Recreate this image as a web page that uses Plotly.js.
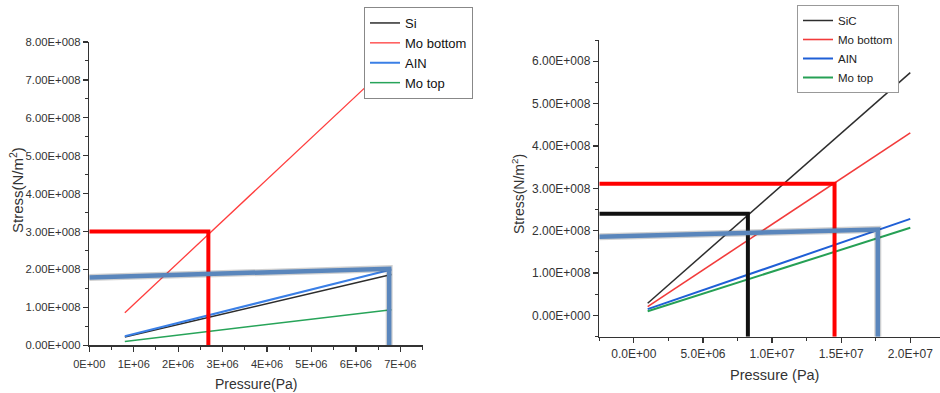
<!DOCTYPE html>
<html>
<head>
<meta charset="utf-8">
<script src="https://cdn.plot.ly/plotly-3.0.1.min.js"></script>
<style>html,body{margin:0;padding:0;background:#fff;}#chart{width:940px;height:393px;}</style>
</head>
<body>
<div id="chart"></div>
<script>
// ---------- Left chart (Si substrate) ----------
var leftPressure = [0.8e6, 6.8e6];
var leftSi = [0.22e8, 1.87e8];
var leftMoBottom = [0.86e8, 7.45e8];
var leftAlN = [0.24e8, 2.0e8];
var leftMoTop = [0.1e8, 0.94e8];
// guide lines (left)
var leftRedGuideX = [0, 2.68e6, 2.68e6];
var leftRedGuideY = [3.0e8, 3.0e8, 0];
var leftBlueGuideX = [0, 6.75e6, 6.75e6];
var leftBlueGuideY = [1.79e8, 2.02e8, 0];
var leftXTickVals = [0, 1e6, 2e6, 3e6, 4e6, 5e6, 6e6, 7e6];
var leftXTickText = ["0E+00", "1E+06", "2E+06", "3E+06", "4E+06", "5E+06", "6E+06", "7E+06"];
var leftYTickVals = [0, 1e8, 2e8, 3e8, 4e8, 5e8, 6e8, 7e8, 8e8];
var leftYTickText = ["0.00E+000", "1.00E+008", "2.00E+008", "3.00E+008", "4.00E+008", "5.00E+008", "6.00E+008", "7.00E+008", "8.00E+008"];
var leftNames = ["Si", "Mo bottom", "AIN", "Mo top"];

// ---------- Right chart (SiC substrate) ----------
var rightPressure = [1e6, 2e7];
var rightSiC = [0.29e8, 5.73e8];
var rightMoBottom = [0.21e8, 4.31e8];
var rightAlN = [0.15e8, 2.28e8];
var rightMoTop = [0.1e8, 2.07e8];
var rightRedGuideX = [-2.5e6, 1.452e7, 1.452e7];
var rightRedGuideY = [3.11e8, 3.11e8, -0.5e8];
var rightBlackGuideX = [-2.5e6, 8.25e6, 8.25e6];
var rightBlackGuideY = [2.40e8, 2.40e8, -0.5e8];
var rightBlueGuideX = [-2.5e6, 1.765e7, 1.765e7];
var rightBlueGuideY = [1.86e8, 2.03e8, -0.5e8];
var rightXTickVals = [0, 5e6, 1e7, 1.5e7, 2e7];
var rightXTickText = ["0.0E+00", "5.0E+06", "1.0E+07", "1.5E+07", "2.0E+07"];
var rightYTickVals = [0, 1e8, 2e8, 3e8, 4e8, 5e8, 6e8];
var rightYTickText = ["0.00E+000", "1.00E+008", "2.00E+008", "3.00E+008", "4.00E+008", "5.00E+008", "6.00E+008"];
var rightNames = ["SiC", "Mo bottom", "AIN", "Mo top"];

var W = 940, H = 393;
function px(x) { return x / W; }
function py(y) { return 1 - y / H; }

var FONT = "Liberation Sans, Arial, sans-serif";

function line(x, y, name, color, width, xa, ya, legend, show) {
  return {type: "scatter", mode: "lines", x: x, y: y, name: name,
    line: {color: color, width: width}, xaxis: xa, yaxis: ya,
    legend: legend, showlegend: show, hoverinfo: "skip"};
}

var traces = [
  line(leftPressure, leftSi, leftNames[0], "#2d2d2d", 1.5, "x", "y", "legend", true),
  line(leftPressure, leftMoBottom, leftNames[1], "#ff3d3d", 1.3, "x", "y", "legend", true),
  line(leftPressure, leftAlN, leftNames[2], "#3a7fe6", 2, "x", "y", "legend", true),
  line(leftPressure, leftMoTop, leftNames[3], "#27a459", 1.5, "x", "y", "legend", true),
  line(leftRedGuideX, leftRedGuideY, "guide", "#ff0000", 4, "x", "y", "legend", false),
  line(leftBlueGuideX, leftBlueGuideY, "guide", "rgba(70,70,70,0.25)", 7, "x", "y", "legend", false),
  line(leftBlueGuideX, leftBlueGuideY, "guide", "#5a86bc", 4.5, "x", "y", "legend", false),

  line(rightPressure, rightSiC, rightNames[0], "#2d2d2d", 1.5, "x2", "y2", "legend2", true),
  line(rightPressure, rightMoBottom, rightNames[1], "#f23b3b", 1.6, "x2", "y2", "legend2", true),
  line(rightPressure, rightAlN, rightNames[2], "#1f5fd6", 2, "x2", "y2", "legend2", true),
  line(rightPressure, rightMoTop, rightNames[3], "#26a055", 2, "x2", "y2", "legend2", true),
  line(rightRedGuideX, rightRedGuideY, "guide", "#ff0000", 4, "x2", "y2", "legend2", false),
  line(rightBlackGuideX, rightBlackGuideY, "guide", "#111111", 4, "x2", "y2", "legend2", false),
  line(rightBlueGuideX, rightBlueGuideY, "guide", "rgba(70,70,70,0.25)", 7, "x2", "y2", "legend2", false),
  line(rightBlueGuideX, rightBlueGuideY, "guide", "#5a86bc", 4.5, "x2", "y2", "legend2", false)
];

function axis(domain, anchor, range, tv, tt, fs, minorD, standoff) {
  return {domain: domain, anchor: anchor, range: range,
    tickmode: "array", tickvals: tv, ticktext: tt,
    tickfont: {family: FONT, size: fs, color: "#333"},
    ticklabelstandoff: standoff,
    showline: true, linecolor: "#333", linewidth: 1.5,
    ticks: "outside", ticklen: 5, tickwidth: 1.3, tickcolor: "#333",
    minor: {dtick: minorD, tick0: 0, ticks: "outside", ticklen: 3, tickwidth: 1, tickcolor: "#333"},
    showgrid: false, zeroline: false, fixedrange: true};
}

function title(text, x, y, size, angle) {
  return {text: text, x: px(x), y: py(y), xref: "paper", yref: "paper",
    xanchor: "center", yanchor: "middle", showarrow: false, textangle: angle,
    font: {family: FONT, size: size, color: "#333"}};
}

var layout = {
  width: W, height: H,
  margin: {l: 0, r: 0, t: 0, b: 0},
  paper_bgcolor: "#ffffff", plot_bgcolor: "rgba(0,0,0,0)",
  font: {family: FONT, color: "#222"},
  xaxis: axis([px(89.3), px(422.5)], "y", [0, 7.5e6], leftXTickVals, leftXTickText, 11, 5e5, 3),
  yaxis: axis([py(345.3), py(42)], "x", [0, 8e8], leftYTickVals, leftYTickText, 11.3, 0.5e8, 0),
  xaxis2: axis([px(599.3), 1], "y2", [-2.5e6, 2.215e7], rightXTickVals, rightXTickText, 12, 2.5e6, 0),
  yaxis2: axis([py(336.7), py(40)], "x2", [-0.5e8, 6.5e8], rightYTickVals, rightYTickText, 12, 0.5e8, 0),
  legend: {x: px(364), y: py(7), xanchor: "left", yanchor: "top",
    bgcolor: "#ffffff", bordercolor: "#888", borderwidth: 1,
    font: {family: FONT, size: 13, color: "#111"}, itemwidth: 30, tracegroupgap: 0},
  legend2: {x: px(797), y: py(5), xanchor: "left", yanchor: "top",
    bgcolor: "#ffffff", bordercolor: "#999", borderwidth: 1,
    font: {family: FONT, size: 11.5, color: "#222"}, itemwidth: 30, tracegroupgap: 0},
  annotations: [
    title("Pressure(Pa)", 256, 384, 14, 0),
    title("Stress(N/m<sup>2</sup>)", 16, 190, 15, -90),
    title("Pressure (Pa)", 774, 375, 14.5, 0),
    title("Stress(N/m<sup>2</sup>)", 518, 194, 14, -90)
  ]
};

Plotly.newPlot("chart", traces, layout, {staticPlot: true, displayModeBar: false});
</script>
</body>
</html>
